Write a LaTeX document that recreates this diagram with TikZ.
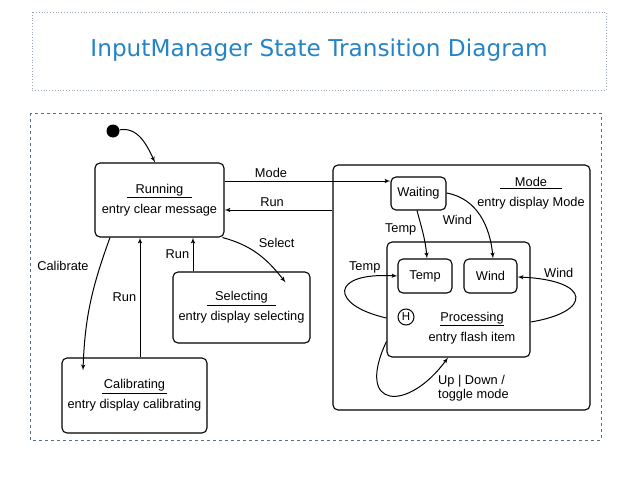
\documentclass[tikz,border=0pt]{standalone}
\usepackage{fontspec}
\setmainfont{Liberation Sans}
\newfontfamily\titlefont{DejaVu Sans}
\usepackage{xcolor}
\usepackage{tikz}
\usetikzlibrary{positioning, arrows}
\definecolor{titleblue}{HTML}{2584C6}
\definecolor{framegray}{HTML}{9AA6B4}
\definecolor{frameslate}{HTML}{56707F}
\tikzstyle{line} = [draw, -latex', line width=1pt]
\tikzstyle{state} = [rectangle, draw, line width=1.1pt, rounded corners=5pt,
    align=center, inner sep=0pt]
\newcommand{\stitle}[2][0pt]{\underline{\hspace{#1}#2\hspace{#1}}}

\begin{document}
\begin{tikzpicture}[x=1pt, y=1pt, node distance=2cm, auto, font=\fontsize{12.8}{14}\selectfont]
      \useasboundingbox (0,0) rectangle (638,-479);
      % Frames
      \draw[framegray, dotted, line width=0.8pt] (32,-12) rectangle (606,-90);
      \node[text=titleblue, font=\titlefont\fontsize{23.2}{27}\selectfont] (title) at (319,-50) {InputManager State Transition Diagram};
      \draw[frameslate, dashed, line width=0.8pt] (30,-113) rectangle (601,-440);
      % Place outer states
      \node [circle, fill=black, minimum size=13pt, inner sep=0pt] (init) at (113,-131) {};
      \node [state, minimum width=129pt, minimum height=74pt] (running) at (159.5,-200) {\stitle[9pt]{Running}\\[6pt] entry clear message};
      \node [state, minimum width=137pt, minimum height=71pt] (selecting) at (241.5,-307.5) {\stitle[8pt]{Selecting}\\[6pt] entry display selecting};
      \node [state, minimum width=145pt, minimum height=75pt] (calibrating) at (134.5,-395.5) {\stitle[2pt]{Calibrating}\\[6pt] entry display calibrating};
      % Place mode states
      \node [state, minimum width=257pt, minimum height=245pt] (mode) at (461.5,-287.5) {};
      \node [align=center] (modetext) at (531,-193) {\stitle[15pt]{Mode}\\[6pt] entry display Mode};
      \node [state, minimum width=55pt, minimum height=33pt] (waiting) at (418.5,-193.5) {Waiting};
      \node [state, minimum width=143pt, minimum height=115pt] (processing) at (458.5,-299.5) {};
      \node [align=center] (proctext) at (472,-328) {\stitle{Processing}\\[6pt] entry flash item};
      \node [state, minimum width=54pt, minimum height=34pt] (temp) at (425,-276) {Temp};
      \node [state, minimum width=53pt, minimum height=34pt, right of=temp, node distance=65.5pt] (wind) {Wind};
      \node [circle, draw, line width=1pt, minimum size=16pt, inner sep=0pt, font=\fontsize{11.5}{12}\selectfont] (hist) at (406,-317) {H};
      % Draw outer edges
      \path [line] (init) to[out=10, in=115] ([xshift=-4.5pt]running.north);
      \path [line] ([yshift=19pt]running.east) -- node[pos=0.28, above] {Mode} ([yshift=19pt]running.east -| waiting.west);
      \path [line] ([yshift=77.5pt]mode.west) -- node[pos=0.56, above] {Run} ([yshift=-10pt]running.east);
      \path [line] ([xshift=-2pt]running.south east) to[out=-15, in=128] node[pos=0.45, above right] {Select} ([xshift=-25pt, yshift=-11pt]selecting.north east);
      \path [line] ([xshift=-48.5pt]selecting.north) -- node[left] {Run} ([xshift=33.5pt]running.south);
      \path [line] ([xshift=-49.5pt]running.south) to[out=-110, in=88] node[pos=0.2, left=8pt] {Calibrate} ([xshift=-51.5pt, yshift=-13pt]calibrating.north);
      \path [line] ([xshift=5.5pt]calibrating.north) -- node[left] {Run} ([xshift=-19.5pt]running.south);
      % Draw mode edges
      \path [line] ([xshift=-1.5pt]waiting.south) to[out=-75, in=95] node[pos=0.4, left=2pt] {Temp} ([xshift=2pt]temp.north);
      \path [line] ([yshift=0.5pt]waiting.east) to[out=-10, in=95] node[pos=0.42, below left=1pt] {Wind} ([xshift=2.5pt]wind.north);
      \path [line] ([yshift=-18.5pt]processing.west) .. controls +(-57,13) and +(-68,4) .. node[pos=0.8, above=1pt] {Temp} (temp.west);
      \path [line] ([yshift=-22.5pt]processing.east) .. controls +(62,10) and +(75,-3) .. node[pos=0.76, above=2pt] {Wind} ([yshift=-1pt]wind.east);
      \path [line] ([yshift=-42pt]processing.west) .. controls +(-32,-68) and +(-40,-55) .. node[pos=0.9, anchor=north west, align=left, inner sep=2pt] {Up | Down /\\[0pt]toggle mode} ([xshift=-10.5pt]processing.south);
  \end{tikzpicture}
\end{document}
